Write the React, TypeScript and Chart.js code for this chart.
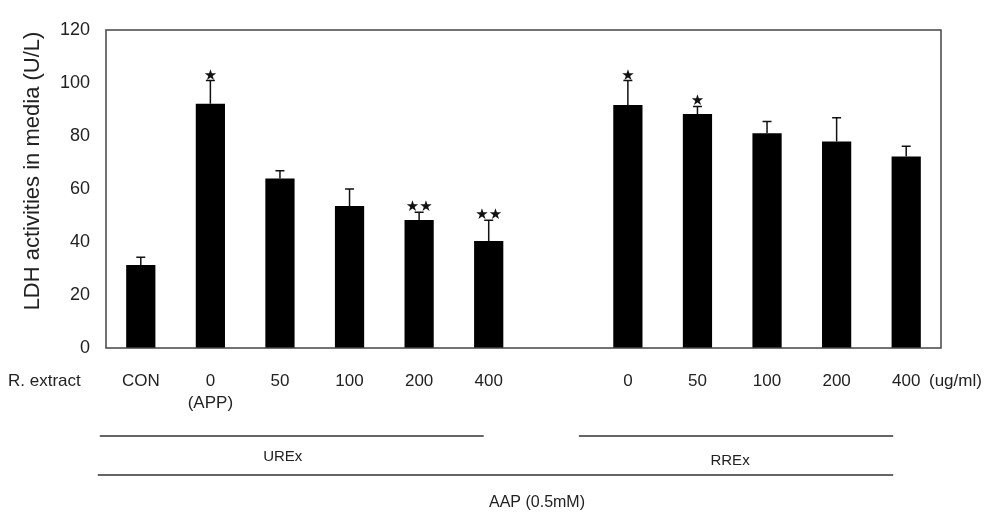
import React, { useEffect, useRef } from 'react';
import { Chart, registerables } from 'chart.js';

Chart.register(...registerables);

// ---- data ----
const categories: (string | string[])[] = ['CON', ['0', '(APP)'], '50', '100', '200', '400', '', '0', '50', '100', '200', '400'];
const meanValues: (number | null)[] = [31.3, 92.2, 64.0, 53.6, 48.3, 40.4, null, 91.7, 88.3, 81.0, 77.9, 72.3];
const sdValues: (number | null)[] = [2.9, 8.7, 2.9, 6.4, 2.9, 7.8, null, 9.2, 2.8, 4.5, 9.0, 3.8];
const significance: string[] = ['', '★', '', '', '★★', '★★', '', '★', '★', '', '', ''];
const yMin = 0;
const yMax = 120;
const yStep = 20;
const yTitle = 'LDH activities in media (U/L)';
const rowLabel = 'R. extract';
const unitLabel = '(ug/ml)';
const groupLabels = ['UREx', 'RREx'];
const outerLabel = 'AAP (0.5mM)';

const FONT = "'Liberation Sans', Arial, sans-serif";
const TEXT = '#222';

const overlay = {
  id: 'overlay',
  afterDatasetsDraw(chart: any) {
    const { ctx, chartArea, scales } = chart;
    const x = scales.x;
    const y = scales.y;
    ctx.save();

    // frame
    ctx.strokeStyle = '#444';
    ctx.lineWidth = 1.5;
    ctx.strokeRect(chartArea.left, chartArea.top, chartArea.right - chartArea.left, chartArea.bottom - chartArea.top);

    // error bars (upper only) and significance marks
    ctx.strokeStyle = '#111';
    ctx.lineWidth = 1.5;
    meanValues.forEach((m, i) => {
      const sd = sdValues[i];
      if (m == null || sd == null) return;
      const px = x.getPixelForValue(i);
      const yTop = y.getPixelForValue(m);
      const yErr = y.getPixelForValue(m + sd);
      ctx.beginPath();
      ctx.moveTo(px, yTop);
      ctx.lineTo(px, yErr);
      ctx.moveTo(px - 4.5, yErr);
      ctx.lineTo(px + 4.5, yErr);
      ctx.stroke();
      const s = significance[i];
      if (s) {
        ctx.fillStyle = '#111';
        ctx.font = "15px 'DejaVu Sans', sans-serif";
        ctx.textAlign = 'center';
        ctx.textBaseline = 'middle';
        ctx.fillText(s, px, yErr - 5);
      }
    });

    // y title
    ctx.fillStyle = TEXT;
    ctx.font = `22px ${FONT}`;
    ctx.textAlign = 'center';
    ctx.textBaseline = 'middle';
    ctx.save();
    ctx.translate(33, 171);
    ctx.rotate(-Math.PI / 2);
    ctx.fillText(yTitle, 0, 0);
    ctx.restore();

    // row labels
    ctx.font = `17px ${FONT}`;
    ctx.textAlign = 'left';
    ctx.fillText(rowLabel, 8, 381);
    ctx.fillText(unitLabel, 929, 381);

    // group lines
    const p0 = x.getPixelForValue(0);
    const p5 = x.getPixelForValue(5);
    const p7 = x.getPixelForValue(7);
    const p11 = x.getPixelForValue(11);
    ctx.strokeStyle = '#333';
    ctx.lineWidth = 1.5;
    ctx.beginPath();
    ctx.moveTo(p0 - 41, 436);
    ctx.lineTo(p5 - 5, 436);
    ctx.moveTo(p7 - 49, 436);
    ctx.lineTo(p11 - 13, 436);
    ctx.moveTo(p0 - 43, 475);
    ctx.lineTo(p11 - 13, 475);
    ctx.stroke();

    ctx.font = `15px ${FONT}`;
    ctx.textAlign = 'center';
    ctx.fillText(groupLabels[0], (p0 - 41 + p5 - 5) / 2 - 9, 457);
    ctx.fillText(groupLabels[1], (p7 - 49 + p11 - 13) / 2 - 6, 461);
    ctx.font = `16px ${FONT}`;
    ctx.fillText(outerLabel, 537, 503);

    ctx.restore();
  },
};

export default function App() {
  const ref = useRef<HTMLCanvasElement | null>(null);
  useEffect(() => {
    if (!ref.current) return;
    const chart = new Chart(ref.current, {
      type: 'bar',
      data: {
        labels: categories as any,
        datasets: [
          {
            data: meanValues as any,
            backgroundColor: '#000',
            borderWidth: 0,
            barPercentage: 0.42,
            categoryPercentage: 1,
          },
        ],
      },
      options: {
        animation: false,
        responsive: false,
        layout: { padding: { left: 0, top: 30, right: 51, bottom: 0 } },
        plugins: { legend: { display: false }, tooltip: { enabled: false }, title: { display: false } },
        scales: {
          x: {
            grid: { display: false, drawTicks: false },
            border: { display: false },
            ticks: {
              color: TEXT,
              font: { family: FONT, size: 17, lineHeight: 1.3 },
              padding: 22,
              maxRotation: 0,
              autoSkip: false,
            },
            afterFit: (s: any) => {
              s.height = 516 - 348;
            },
          },
          y: {
            min: yMin,
            max: yMax,
            grid: { display: false, drawTicks: false },
            border: { display: false },
            ticks: {
              stepSize: yStep,
              color: TEXT,
              font: { family: FONT, size: 18 },
              padding: 16,
            },
            afterFit: (s: any) => {
              s.width = 106;
            },
          },
        },
      },
      plugins: [overlay],
    });
    return () => chart.destroy();
  }, []);
  return (
    <div style={{ position: 'absolute', left: 0, top: 0, width: 992, height: 516, background: '#fff' }}>
      <canvas ref={ref} width={992} height={516} />
    </div>
  );
}
